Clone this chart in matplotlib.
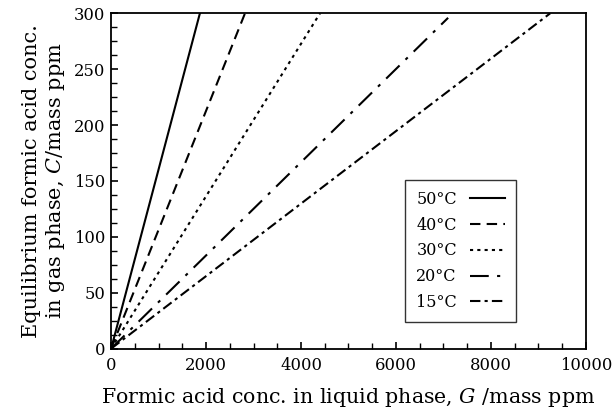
import matplotlib
matplotlib.use("Agg")
import matplotlib.pyplot as plt
from matplotlib.ticker import MultipleLocator

plt.rcParams['font.family'] = ['DejaVu Serif']
plt.rcParams['mathtext.fontset'] = 'dejavuserif'

temps = ['50°C', '40°C', '30°C', '20°C', '15°C']
g_end = [1870, 2820, 4400, 7100, 9250]
c_end = [300, 300, 300, 296, 300]
styles = ['-', (0, (5, 3)), (0, (1.5, 2)), (0, (9, 4, 1.5, 4)), (0, (5, 2, 1.5, 2))]

fig = plt.figure(figsize=(6.14, 4.17), dpi=100)
ax = fig.add_axes([0.181, 0.164, 0.773, 0.804])

for t, g, c, ls in zip(temps, g_end, c_end, styles):
    ax.plot([0, g], [0, c], color='k', lw=1.5, linestyle=ls, label=t)

ax.set_xlim(0, 10000)
ax.set_ylim(0, 300)
ax.xaxis.set_major_locator(MultipleLocator(2000))
ax.xaxis.set_minor_locator(MultipleLocator(500))
ax.yaxis.set_major_locator(MultipleLocator(50))
ax.yaxis.set_minor_locator(MultipleLocator(12.5))
ax.tick_params(which='both', direction='in', top=False, right=False, labelsize=11.8)
ax.tick_params(axis='x', which='major', pad=6)
ax.tick_params(axis='y', which='major', pad=4)
ax.tick_params(which='major', length=5, width=1.2)
ax.tick_params(which='minor', length=4, width=1.0)
for s in ax.spines.values():
    s.set_linewidth(1.3)

ax.set_xlabel('Formic acid conc. in liquid phase, $G$ /mass ppm', fontsize=14.8, labelpad=9)
ax.set_ylabel('Equilibrium formic acid conc.\nin gas phase, $C$/mass ppm', fontsize=15, labelpad=5)

leg = ax.legend(loc='lower right', bbox_to_anchor=(0.853, 0.079), borderaxespad=0,
                markerfirst=False, fontsize=11.5, frameon=True, fancybox=False,
                edgecolor='k', handlelength=2.2, labelspacing=0.55, borderpad=0.7)
leg.get_frame().set_linewidth(1.0)

fig.savefig('out.png', dpi=100)
